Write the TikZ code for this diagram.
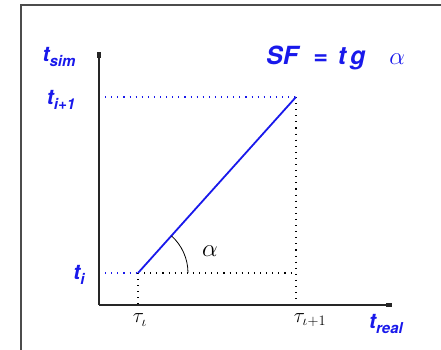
\documentclass[tikz,border=0pt]{standalone}
\usepackage{fontspec}
\setsansfont{TeX Gyre Heros}
\usepackage{xcolor}
\usepackage{tikz}
\usetikzlibrary{arrows.meta}
\definecolor{simblue}{RGB}{25,25,235}
\newcommand{\lsub}[1]{\raisebox{-0.45ex}{\fontsize{15}{15}\selectfont #1}}

\begin{document}
\begin{tikzpicture}[x=1pt, y=1pt,
    lbl/.style={font=\sffamily\bfseries\itshape\fontsize{21}{23}\selectfont, text=simblue, inner sep=0pt},
    greek/.style={font=\fontsize{22}{24}\selectfont, inner sep=0pt},
    axis/.style={line width=1.4pt, black!85, -{Rectangle[length=6pt, width=4.5pt]}},
    guide/.style={line width=1.1pt, dash pattern=on 1.1pt off 5pt},
    ratio/.style={line width=1.8pt, simblue}
]
\useasboundingbox (0,0) rectangle (441,350);
\draw[line width=1.2pt, black!70] (21,0) -- (21,345) -- (441,345);

% axes and key points
\coordinate (O) at (99,45);
\coordinate (ytop) at (99,298);
\coordinate (xend) at (392,45);
\coordinate (A) at (138,77);
\coordinate (B) at (296,253);
\coordinate (Ay) at (99,77);
\coordinate (By) at (99,253);
\coordinate (Ax) at (138,45);
\coordinate (Bx) at (296,45);
\coordinate (Ar) at (296,77);

\draw[guide, simblue] (By) -- (B);
\draw[guide, simblue] (Ay) -- (A);
\draw[guide] (A) -- (Ar);
\draw[guide] (A) -- (Ax);
\draw[guide] (B) -- (Bx);

\draw[axis] (O) -- (ytop);
\draw[axis] (O) -- (xend);

\draw[ratio] (A) -- (B);
\draw[line width=0.8pt] (A) ++(50,0) arc[start angle=0, end angle=48, radius=50];

% labels
\node[lbl] (tsim) at (59,293) {t\lsub{sim}};
\node[lbl] (tnext) at (61,250) {t\lsub{i+1}};
\node[lbl] (ti) at (79,75) {t\lsub{i}};
\node[lbl, anchor=west, font=\sffamily\bfseries\itshape\fontsize{25}{27}\selectfont] (sf) at (266,292)
  {SF\hspace{15pt}=\hspace{10pt}t\hspace{4pt}g\hspace{24pt}\textcolor{simblue}{\fontsize{34}{36}\selectfont\normalfont$\alpha$}};
\node[lbl] (treal) at (386,26) {t\lsub{real}};
\node[greek] (tau) at (140,30) {$\tau_\iota$};
\node[greek] (taunext) at (310,30) {$\tau_{\iota+1}$};
\node[greek, font=\fontsize{26}{28}\selectfont] (alpha) at (210,99) {$\alpha$};
\end{tikzpicture}
\end{document}
